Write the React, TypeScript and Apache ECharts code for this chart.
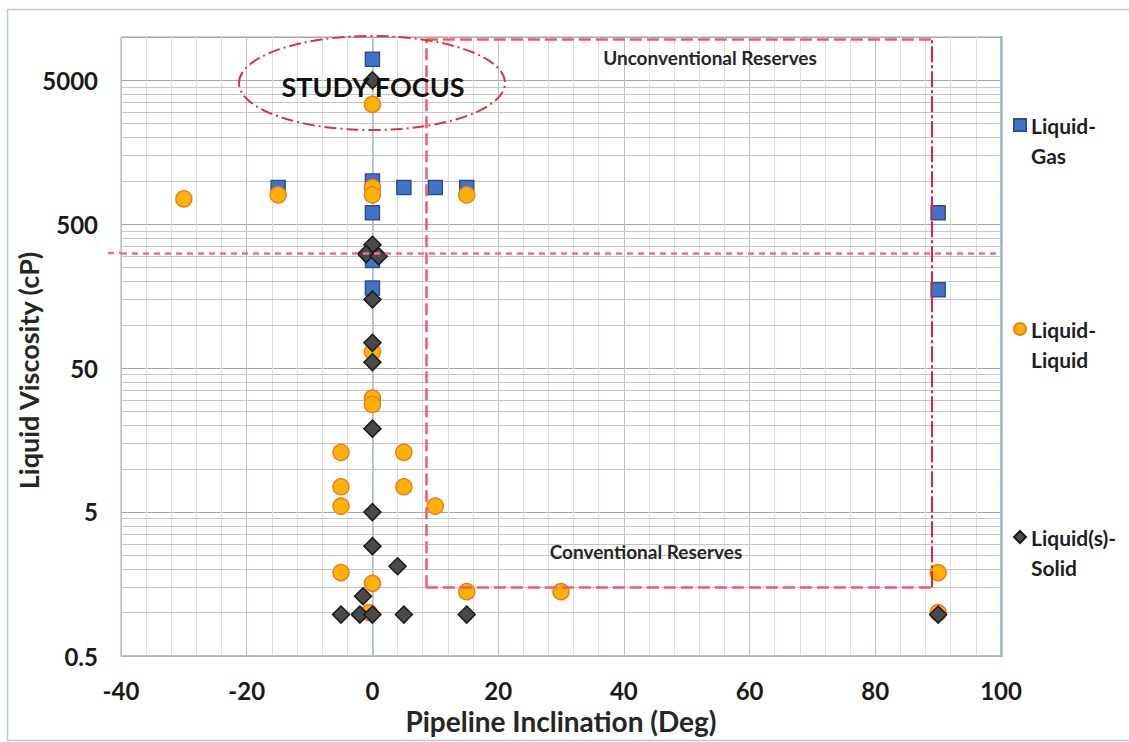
import { useEffect, useRef } from "react";
import * as echarts from "echarts";

// Liquid–gas flow tests: pipeline inclination (deg) vs liquid viscosity (cP)
const gasInclination = [0, -15, 0, 5, 10, 15, 0, 0, 0, 90, 90];
const gasViscosity = [7000, 900, 1000, 900, 900, 900, 600, 280, 180, 600, 175];

// Liquid–liquid flow tests
const liquidInclination = [-30, -15, 0, 0, 15, 0, 0, 0, 0, -5, 5, -5, 5, -5, 10, -5, 0, -0.5, 15, 30, 90, 90];
const liquidViscosity = [750, 800, 900, 800, 800, 3400, 65, 31, 28, 13, 13, 7.5, 7.5, 5.5, 5.5, 1.9, 1.6, 1.0, 1.4, 1.4, 1.9, 1.0];

// Liquid(s)–solid flow tests
const solidInclination = [0, 0, -1, 1, 0, 0, 0, 0, 0, 0, 4, -1.5, -5, -2, 0, 5, 15, 90];
const solidViscosity = [5000, 360, 310, 300, 150, 75, 55, 19, 5, 2.9, 2.1, 1.3, 0.97, 0.97, 0.97, 0.97, 0.97, 0.97];

// Axis ranges
const xMin = -40;
const xMax = 100;
const xStep = 20;
const yMin = 0.5;
const yMax = 10000;
const yDecadeStarts = [0.5, 5, 50, 500, 5000];
const yMinorMultipliers = [2, 3, 4, 5, 6, 7, 8, 9];

// Reserve zones and study threshold
const cutoffViscosity = 315;
const zoneLeft = 8.5;
const zoneRight = 89;
const zoneBottom = 1.5;
const zoneTop = 9600;

const seriesNames = ["Liquid-Gas", "Liquid-Liquid", "Liquid(s)-Solid"];

const FONT = "Lato, 'Open Sans', sans-serif";

const pairs = (xs: number[], ys: number[]) => xs.map((x, i) => [x, ys[i]]);

export default function App() {
  const ref = useRef<HTMLDivElement>(null);

  useEffect(() => {
    document.body.style.margin = "0";
    const chart = echarts.init(ref.current!, null, { renderer: "svg" });

    const minorLines: { yAxis: number }[] = [];
    yDecadeStarts.forEach((b) =>
      yMinorMultipliers.forEach((k) => {
        const v = b * k;
        if (v < yMax) minorLines.push({ yAxis: v });
      })
    );

    const legendText = {
      fontFamily: FONT,
      fontWeight: "bold" as const,
      fontSize: 21,
      color: "#1f1f1f",
      lineHeight: 30,
    };
    const legendBase = {
      orient: "vertical" as const,
      left: 1013,
      padding: 0,
      itemWidth: 12,
      itemHeight: 12,
      textStyle: legendText,
      selectedMode: false,
      formatter: (name: string) => "\n" + name.replace("-", "-\n"),
    };

    const pinkDash = { color: "#f25a6c", width: 2.5, type: [12, 5] as number[] };

    chart.setOption({
      animation: false,
      backgroundColor: "#ffffff",
      grid: {
        left: 121,
        right: 128,
        top: 37,
        bottom: 86,
        outerBoundsMode: "none",
        show: true,
        borderColor: "#a6a6a6",
        borderWidth: 1,
      },
      legend: [
        { ...legendBase, top: 80, data: [seriesNames[0]] },
        { ...legendBase, top: 284, data: [seriesNames[1]] },
        { ...legendBase, top: 492, data: [seriesNames[2]] },
      ],
      xAxis: {
        type: "value",
        min: xMin,
        max: xMax,
        interval: xStep,
        name: "Pipeline Inclination (Deg)",
        nameLocation: "middle",
        nameGap: 49,
        nameTextStyle: { fontFamily: FONT, fontWeight: "bold", fontSize: 28, color: "#262626" },
        axisLine: { lineStyle: { color: "#a9bddb", width: 1.5 } },
        axisTick: { show: false },
        axisLabel: { fontFamily: FONT, fontWeight: "bold", fontSize: 24, color: "#1a1a1a", margin: 22 },
        splitLine: { show: true, lineStyle: { color: "#b4c0d4", width: 1 } },
        minorTick: { show: false, splitNumber: 5 },
        minorSplitLine: { show: true, lineStyle: { color: "#d8e0ec", width: 1 } },
      },
      yAxis: [
        {
          type: "log",
          logBase: 10,
          min: yMin,
          max: yMax,
          interval: 1,
          name: "Liquid Viscosity (cP)",
          nameLocation: "middle",
          nameGap: 79,
          nameMoveOverlap: false,
          nameTextStyle: {
            fontFamily: FONT,
            fontWeight: "bold",
            fontSize: 27,
            color: "#262626",
            padding: [0, 48, 0, 0],
          },
          axisLine: { show: true, lineStyle: { color: "#a9bddb", width: 1.5 } },
          axisTick: { show: false },
          axisLabel: {
            fontFamily: FONT,
            fontWeight: "bold",
            fontSize: 24,
            color: "#1a1a1a",
            margin: 23,
            showMaxLabel: false,
            formatter: (v: number) => (v >= 9000 ? "" : String(Number(v.toPrecision(1)))),
          },
          splitLine: { show: true, lineStyle: { color: "#a6a6a6", width: 1 } },
        },
        {
          type: "log",
          logBase: 10,
          min: yMin,
          max: yMax,
          position: "right",
          axisLine: { show: true, lineStyle: { color: "#9db3dc", width: 2.5 } },
          axisTick: { show: false },
          axisLabel: { show: false },
          splitLine: { show: false },
        },
      ],
      series: [
        {
          name: "minor-grid",
          type: "scatter",
          data: [],
          silent: true,
          markLine: {
            z: 1,
            silent: true,
            symbol: "none",
            label: { show: false },
            lineStyle: { color: "#c6c6c6", width: 1, type: "solid" },
            data: minorLines,
          },
        },
        {
          name: seriesNames[0],
          type: "scatter",
          symbol: "rect",
          symbolSize: 14,
          z: 2,
          itemStyle: { color: "#4472c4", borderColor: "#2f4f8a", borderWidth: 1.5, opacity: 1 },
          data: pairs(gasInclination, gasViscosity),
        },
        {
          name: seriesNames[1],
          type: "scatter",
          symbol: "circle",
          symbolSize: 16,
          z: 3,
          itemStyle: { color: "#ffb300", borderColor: "#ee7d1e", borderWidth: 1.5, opacity: 1 },
          data: pairs(liquidInclination, liquidViscosity),
        },
        {
          name: seriesNames[2],
          type: "scatter",
          symbol: "diamond",
          symbolSize: 17,
          z: 4,
          itemStyle: { color: "#4a4a4a", borderColor: "#1a1a1a", borderWidth: 1.5, opacity: 1 },
          data: pairs(solidInclination, solidViscosity),
        },
        {
          name: "zones",
          type: "scatter",
          data: [],
          silent: true,
          markLine: {
            z: 10,
            silent: true,
            symbol: "none",
            label: { show: false },
            data: [
              [
                { coord: [xMin, cutoffViscosity], lineStyle: { color: "#f46e7e", width: 2.5, type: [6, 5] } },
                { coord: [xMax, cutoffViscosity] },
              ],
              [{ coord: [zoneLeft, zoneBottom], lineStyle: pinkDash }, { coord: [zoneLeft, zoneTop] }],
              [{ coord: [zoneLeft, zoneTop], lineStyle: pinkDash }, { coord: [zoneRight, zoneTop] }],
              [{ coord: [zoneLeft, zoneBottom], lineStyle: pinkDash }, { coord: [zoneRight, zoneBottom] }],
              [
                { coord: [zoneRight, zoneBottom], lineStyle: { color: "#ec1c3a", width: 2, type: [16, 3, 3, 3] } },
                { coord: [zoneRight, zoneTop] },
              ],
            ],
          },
        },
      ],
      graphic: [
        {
          id: "frame",
          type: "rect",
          z: 0,
          silent: true,
          shape: { x: 7.5, y: 9.5, width: 1132, height: 731 },
          style: { fill: "none", stroke: "#b8c9e6", lineWidth: 1.5 },
        },
        {
          id: "focus-ring",
          type: "ellipse",
          z: 30,
          silent: true,
          shape: { cx: 372, cy: 83, rx: 133, ry: 47 },
          style: { fill: "none", stroke: "#e1303e", lineWidth: 2, lineDash: [12, 4, 2, 4] },
        },
        {
          id: "focus-text",
          type: "text",
          z: 31,
          silent: true,
          x: 373,
          y: 86,
          style: {
            text: "STUDY FOCUS",
            fontFamily: FONT,
            fontWeight: "bold",
            fontSize: 27,
            fill: "#111111",
            align: "center",
            verticalAlign: "middle",
          },
        },
        {
          id: "unconv-text",
          type: "text",
          z: 31,
          silent: true,
          x: 710,
          y: 57,
          style: {
            text: "Unconventional Reserves",
            fontFamily: FONT,
            fontWeight: "bold",
            fontSize: 19,
            fill: "#262626",
            align: "center",
            verticalAlign: "middle",
          },
        },
        {
          id: "conv-text",
          type: "text",
          z: 31,
          silent: true,
          x: 646,
          y: 551,
          style: {
            text: "Conventional Reserves",
            fontFamily: FONT,
            fontWeight: "bold",
            fontSize: 19,
            fill: "#262626",
            align: "center",
            verticalAlign: "middle",
          },
        },
      ],
    });

    // The cutoff line runs a little past the value axis on the left
    const p = chart.convertToPixel({ gridIndex: 0 }, [xMin, cutoffViscosity]) as number[];
    chart.setOption({
      graphic: [
        {
          id: "cutoff-stub",
          type: "line",
          z: 30,
          silent: true,
          shape: { x1: p[0] - 13, y1: p[1], x2: p[0], y2: p[1] },
          style: { stroke: "#f46e7e", lineWidth: 2.5, lineDash: [6, 5] },
        },
      ],
    });

    return () => chart.dispose();
  }, []);

  return <div ref={ref} style={{ width: 1129, height: 742 }} />;
}
